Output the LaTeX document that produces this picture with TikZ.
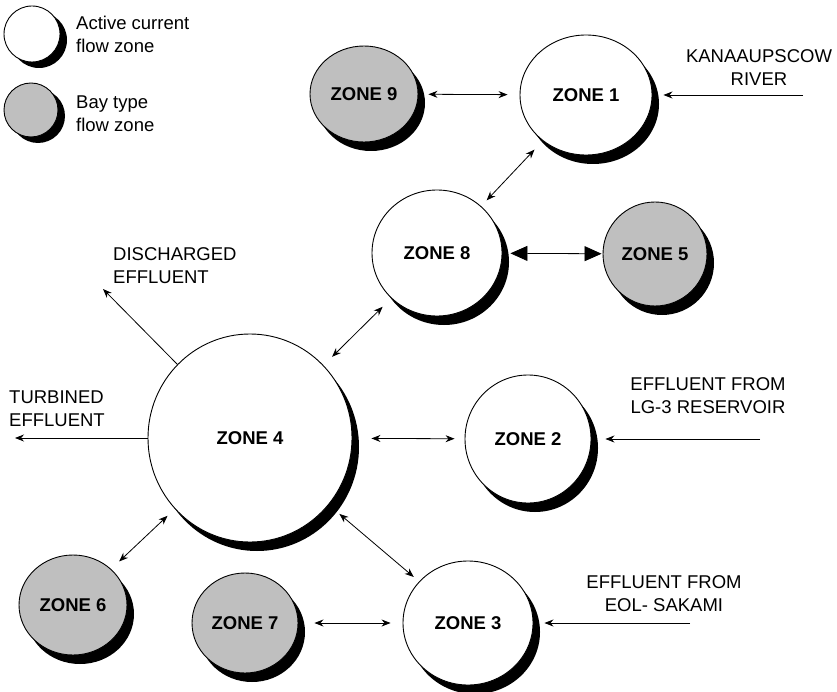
\documentclass[tikz,border=0pt]{standalone}
\usepackage{fontspec}
\setmainfont{Liberation Sans}
\usetikzlibrary{arrows.meta, shapes.geometric, shadows}

\begin{document}
\begin{tikzpicture}[
  x=1pt, y=-1pt,
  zone/.style={ellipse, draw, line width=0.9pt, inner sep=0pt,
    font=\bfseries\fontsize{18.5}{22}\selectfont,
    general shadow={fill=black, shadow xshift=7pt, shadow yshift=-#1}},
  zone/.default=9pt,
  active/.style={zone, fill=white},
  bay/.style={zone, fill=gray!50},
  lbl/.style={font=\fontsize{18.5}{23}\selectfont, inner sep=0pt},
  link/.style={line width=0.8pt,
    {Stealth[length=9pt,width=7pt]}-{Stealth[length=9pt,width=7pt]}},
  feed/.style={line width=0.8pt, -{Stealth[length=9pt,width=7pt]}}
]
  \useasboundingbox (0,0) rectangle (837,692);

  % Legend
  \node[zone=6pt, fill=white, minimum size=56pt] (legA) at (32,34) {};
  \node[zone=6pt, fill=gray!50, minimum size=54pt] (legB) at (31,110) {};
  \node[lbl, align=left, anchor=west] (legAT) at (76,34) {Active current\\flow zone};
  \node[lbl, align=left, anchor=west] (legBT) at (76,114) {Bay type\\flow zone};

  % Zones
  \node[active, minimum width=132pt, minimum height=120pt] (z1) at (586,95) {ZONE 1};
  \node[bay, minimum width=108pt, minimum height=96pt] (z9) at (364,94) {ZONE 9};
  \node[active, minimum width=130pt, minimum height=126pt] (z8) at (437,253) {ZONE 8};
  \node[bay, minimum width=104pt, minimum height=104pt] (z5) at (655,254) {ZONE 5};
  \node[active, minimum width=204pt, minimum height=208pt] (z4) at (250,438) {ZONE 4};
  \node[active, minimum width=126pt, minimum height=128pt] (z2) at (528,439) {ZONE 2};
  \node[active, minimum width=130pt, minimum height=124pt] (z3) at (468,623) {ZONE 3};
  \node[bay, minimum width=108pt, minimum height=100pt] (z6) at (73,605) {ZONE 6};
  \node[bay, minimum width=106pt, minimum height=100pt] (z7) at (245,623) {ZONE 7};

  % Exchanges between zones
  \draw[link, shorten <=10pt, shorten >=12pt] (z9) -- (z1);
  \draw[link, shorten <=12pt, shorten >=8pt] (z1) -- (z8);
  \draw[link, shorten <=12pt, shorten >=12pt] (z8) -- (z4);
  \draw[line width=0.8pt, shorten <=8pt, shorten >=1pt,
    {Triangle[length=17pt,width=15pt]}-{Triangle[length=17pt,width=15pt]}] (z8) -- (z5);
  \draw[link, shorten <=19pt, shorten >=10pt] (z4) -- (z2);
  \draw[link, shorten <=10pt, shorten >=11pt] (z4) -- (z6);
  \draw[link, shorten <=14pt, shorten >=7pt] (z4) -- (z3);
  \draw[link, shorten <=16pt, shorten >=12pt] (z7) -- (z3);

  % Inflows and outflows
  \coordinate (kana) at (803,95);
  \coordinate (lg3) at (760,439);
  \coordinate (eol) at (690,623);
  \coordinate (turb) at (15,438);
  \coordinate (disch) at (103,289);
  \draw[feed, shorten >=11pt] (kana) -- (z1);
  \draw[feed, shorten >=14pt] (lg3) -- (z2);
  \draw[feed, shorten >=11pt] (eol) -- (z3);
  \draw[feed] (z4) -- (turb);
  \draw[feed] (z4) -- (disch);

  \node[lbl, align=center] (kanaT) at (759,68) {KANAAUPSCOW\\RIVER};
  \node[lbl, align=center] (lg3T) at (708,396) {EFFLUENT FROM\\LG-3 RESERVOIR};
  \node[lbl, align=center] (eolT) at (664,594) {EFFLUENT FROM\\EOL- SAKAMI};
  \node[lbl, align=left, anchor=west] (turbT) at (9,409) {TURBINED\\EFFLUENT};
  \node[lbl, align=left, anchor=west] (dischT) at (113,266) {DISCHARGED\\EFFLUENT};
\end{tikzpicture}
\end{document}
